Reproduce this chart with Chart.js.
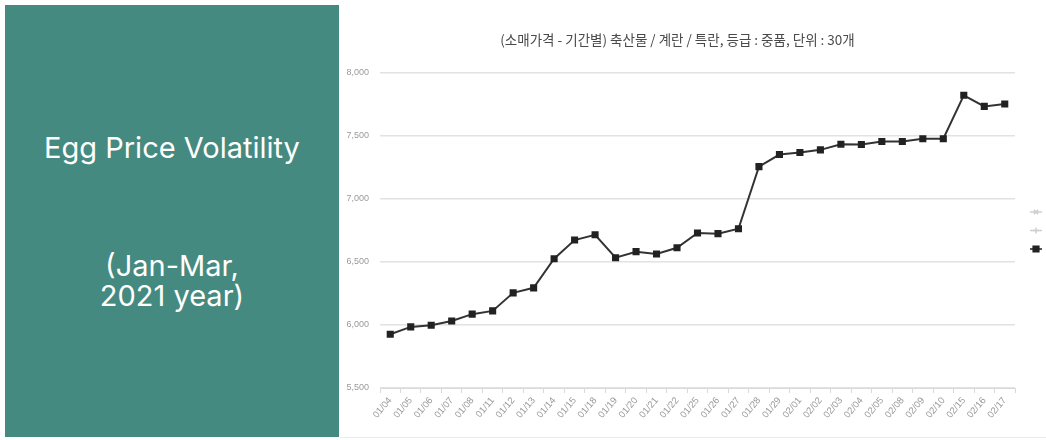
<!DOCTYPE html>
<html>
<head>
<meta charset="utf-8">
<script src="https://cdn.jsdelivr.net/npm/chart.js@4"></script>
<style>
  html, body { margin: 0; padding: 0; background: #ffffff; overflow: hidden; }
  body { width: 1046px; height: 440px; position: relative; }
  #panel { position: absolute; left: 5px; top: 5px; width: 334px; height: 432px; background: #458A80; color: #ffffff; font-family: Inter, "Noto Sans", sans-serif; font-size: 29px; }
  #panel .l1 { position: absolute; left: 0; width: 100%; top: 128px; line-height: 30px; text-align: center; }
  #panel .l2 { position: absolute; left: 0; width: 100%; top: 246px; line-height: 30px; text-align: center; }
  #wrap { position: absolute; left: 340px; top: 0; width: 706px; height: 437px; background: #ffffff; border-bottom: 1px solid #ececec; }
</style>
</head>
<body>
<div id="panel">
  <div class="l1">Egg Price Volatility</div>
  <div class="l2">(Jan-Mar,<br>2021 year)</div>
</div>
<div id="wrap"><canvas id="c"></canvas></div>
<script>
const chartTitle = '(소매가격 - 기간별) 축산물 / 계란 / 특란, 등급 : 중품, 단위 : 30개';
const dates = ['01/04','01/05','01/06','01/07','01/08','01/11','01/12','01/13','01/14','01/15',
  '01/18','01/19','01/20','01/21','01/22','01/25','01/26','01/27','01/28','01/29',
  '02/01','02/02','02/03','02/04','02/05','02/08','02/09','02/10','02/15','02/16','02/17'];
const prices = [5927, 5985, 5998, 6032, 6086, 6112, 6255, 6295, 6526, 6674,
  6716, 6534, 6582, 6563, 6613, 6730, 6725, 6764, 7257, 7353,
  7369, 7390, 7435, 7432, 7456, 7456, 7478, 7478, 7823, 7735, 7754];
const yMin = 5500, yMax = 8000, yStep = 500;

const legendMarks = [
  { color: '#cfcfcf', style: 'crossRot', radius: 3 },
  { color: '#cfcfcf', style: 'cross', radius: 3 },
  { color: '#222222', style: 'rect', radius: 4 }
];

const sideLegend = {
  id: 'sideLegend',
  afterDraw(chart) {
    const { ctx, chartArea } = chart;
    const cx = chartArea.right + 21;
    const mid = (chartArea.top + chartArea.bottom) / 2;
    const gap = 18.5;
    legendMarks.forEach((m, i) => {
      const cy = mid + (i - (legendMarks.length - 1) / 2) * gap;
      ctx.save();
      ctx.strokeStyle = m.color;
      ctx.lineWidth = 1.5;
      ctx.beginPath();
      ctx.moveTo(cx - 6, cy);
      ctx.lineTo(cx + 6, cy);
      ctx.stroke();
      ctx.fillStyle = m.color;
      ctx.lineWidth = 1.5;
      Chart.helpers.drawPoint(ctx, { pointStyle: m.style, radius: m.radius, borderWidth: 1.5 }, cx, cy);
      ctx.restore();
    });
  }
};

new Chart(document.getElementById('c'), {
  type: 'line',
  data: {
    labels: dates,
    datasets: [{
      label: '특란',
      data: prices,
      borderColor: '#333333',
      borderWidth: 2,
      backgroundColor: '#222222',
      pointStyle: 'rect',
      pointRadius: 3.6,
      pointBackgroundColor: '#222222',
      pointBorderColor: '#222222',
      tension: 0,
      fill: false
    }]
  },
  options: {
    responsive: true,
    maintainAspectRatio: false,
    animation: false,
    layout: { padding: { left: 0, right: 31, top: 0, bottom: 0 } },
    plugins: {
      legend: { display: false },
      tooltip: { enabled: false },
      title: {
        display: true,
        text: chartTitle,
        color: '#4a4a4a',
        font: { family: '"Noto Sans CJK KR", sans-serif', size: 13.5, weight: 'normal' },
        padding: { top: 32, bottom: 24.8 }
      }
    },
    scales: {
      x: {
        offset: true,
        grid: { display: true, drawOnChartArea: false, drawTicks: true, tickLength: 5, color: '#d9d9d9', offset: true },
        border: { display: true, color: '#d9d9d9', width: 1 },
        ticks: {
          autoSkip: false, minRotation: 50, maxRotation: 50, padding: 2,
          color: '#9a9a9a',
          font: { family: '"Liberation Sans", sans-serif', size: 9.5 }
        },
        afterFit(scale) { scale.height = 49; }
      },
      y: {
        min: yMin, max: yMax,
        grid: { color: '#e2e2e2', lineWidth: 1.5, drawTicks: false },
        border: { display: false },
        ticks: {
          stepSize: yStep, padding: 11,
          color: '#9a9a9a',
          font: { family: '"Liberation Sans", sans-serif', size: 9 },
          callback: v => v.toLocaleString('en-US')
        },
        afterFit(scale) { scale.width = 40; }
      }
    }
  },
  plugins: [sideLegend]
});
</script>
</body>
</html>
